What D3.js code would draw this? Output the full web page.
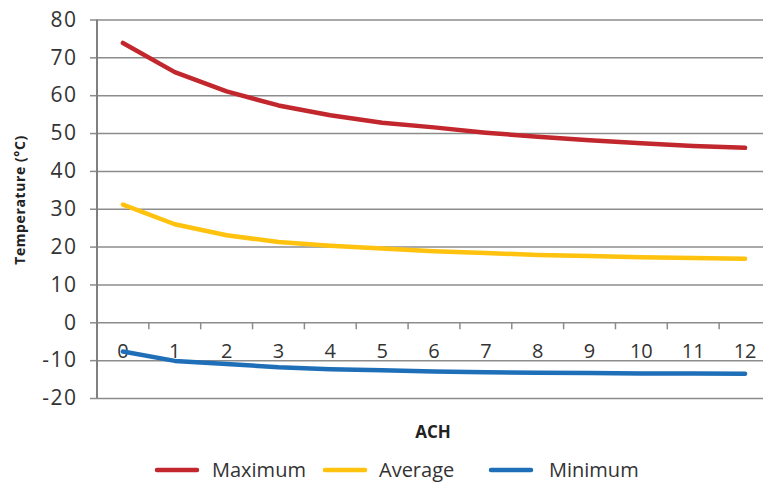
<!DOCTYPE html>
<html><head><meta charset="utf-8">
<script src="https://cdn.jsdelivr.net/npm/d3@7"></script>
<style>
html,body{margin:0;padding:0;background:#fff;}
svg{display:block;font-family:"Open Sans",sans-serif;}
</style></head>
<body>
<svg id="chart" width="763" height="482"></svg>
<script>
const categories = ["0","1","2","3","4","5","6","7","8","9","10","11","12"];
const maximum = [73.8, 66.1, 61.0, 57.3, 54.7, 52.7, 51.5, 50.1, 49.0, 48.1, 47.3, 46.6, 46.1];
const average = [31.1, 25.9, 23.0, 21.2, 20.2, 19.5, 18.8, 18.3, 17.8, 17.5, 17.2, 17.0, 16.8];
const minimum = [-7.7, -10.2, -11.0, -11.9, -12.4, -12.7, -13.0, -13.2, -13.3, -13.4, -13.5, -13.5, -13.6];
const yTicks = [-20, -10, 0, 10, 20, 30, 40, 50, 60, 70, 80];
const seriesNames = ["Maximum", "Average", "Minimum"];
const seriesColors = ["#C1272D", "#FFC20E", "#1F6FB8"];

(function () {
const svg = d3.select("#chart");
const mLeft = 97, mRight = 771, mTop = 19.5, mBottom = 398;

const x = d3.scalePoint().domain(categories).range([mLeft, mRight]).padding(0.5);
const xb = d3.scaleBand().domain(categories).range([mLeft, mRight]);
const y = d3.scaleLinear().domain([-20, 80]).range([mBottom, mTop]);

// gridlines + y axis
const yAxis = d3.axisLeft(y).tickValues(yTicks).tickSize(7).tickPadding(14).tickFormat(d => d);
const gy = svg.append("g").attr("transform", `translate(${mLeft},0)`).call(yAxis);
gy.select(".domain").remove();
gy.selectAll(".tick line").attr("stroke", "#8c8c8c").attr("stroke-width", 1.5);
gy.selectAll(".tick").append("line")
  .attr("x1", 0).attr("x2", 763 - mLeft).attr("stroke", "#8c8c8c").attr("stroke-width", 1.5);
gy.selectAll(".tick text").attr("font-size", 21).attr("fill", "#333")
  .attr("font-family", "Open Sans, sans-serif").attr("letter-spacing", 1.5).attr("dx", 1.5);

// y axis line
svg.append("line").attr("x1", mLeft).attr("x2", mLeft).attr("y1", mTop).attr("y2", mBottom)
  .attr("stroke", "#808080").attr("stroke-width", 2);

// x axis tick marks at y=0 between categories
svg.append("g").selectAll("line").data(categories)
  .join("line")
  .attr("x1", d => xb(d) + xb.bandwidth()).attr("x2", d => xb(d) + xb.bandwidth())
  .attr("y1", y(0)).attr("y2", y(0) + 7)
  .attr("stroke", "#8c8c8c").attr("stroke-width", 1.5);

// x labels
svg.append("g").selectAll("text").data(categories)
  .join("text")
  .attr("x", d => x(d)).attr("y", 358)
  .attr("text-anchor", "middle").attr("font-size", 20).attr("fill", "#333")
  .text(d => d);

// lines
const allSeries = [maximum, average, minimum];
const line = d3.line().x((d, i) => x(categories[i])).y(d => y(d));
allSeries.forEach((s, k) => {
  svg.append("path").datum(s).attr("d", line)
    .attr("fill", "none").attr("stroke", seriesColors[k]).attr("stroke-width", 4.5)
    .attr("stroke-linecap", "round").attr("stroke-linejoin", "round");
});

// axis titles
svg.append("text").attr("transform", "translate(25,200) rotate(-90)")
  .attr("text-anchor", "middle").attr("font-size", 14).attr("font-weight", "bold").attr("fill", "#222")
  .attr("letter-spacing", 0.6)
  .text("Temperature (°C)");
svg.append("text").attr("x", 433).attr("y", 438)
  .attr("text-anchor", "middle").attr("font-size", 17).attr("font-weight", "bold").attr("fill", "#222")
  .text("ACH");

// legend
const legendX = [157, 325, 491];
const lg = svg.append("g").selectAll("g").data(seriesNames).join("g")
  .attr("transform", (d, i) => `translate(${legendX[i]},470)`);
lg.append("line").attr("x1", 0).attr("x2", 40).attr("y1", 0).attr("y2", 0)
  .attr("stroke", (d, i) => seriesColors[i]).attr("stroke-width", 4.5).attr("stroke-linecap", "round");
lg.append("text").attr("x", (d, i) => [55, 54, 58][i]).attr("y", 7)
  .attr("font-size", 20).attr("fill", "#333").text(d => d);
})();
</script>
</body></html>
